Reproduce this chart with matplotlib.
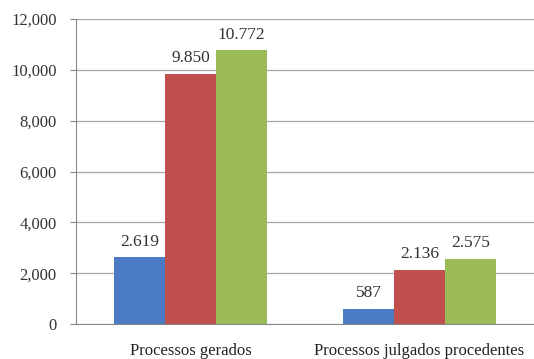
import numpy as np
import matplotlib.pyplot as plt

categories = ["Processos gerados", "Processos julgados procedentes"]
serie_1 = [2619, 587]
serie_2 = [9850, 2136]
serie_3 = [10772, 2575]
rotulos_1 = ["2.619", "587"]
rotulos_2 = ["9.850", "2.136"]
rotulos_3 = ["10.772", "2.575"]
yticks = [0, 2000, 4000, 6000, 8000, 10000, 12000]
ytick_labels = ["0", "2,000", "4,000", "6,000", "8,000", "10,000", "12,000"]

plt.rcParams['font.family'] = ['Liberation Serif', 'DejaVu Serif']

fig = plt.figure(figsize=(5.34, 3.59), dpi=100)
ax = fig.add_axes([76 / 534, 1 - 324 / 359, 458 / 534, 305 / 359])

x = np.arange(len(categories))
w = 0.223
colors = ["#4a7bc4", "#c0504d", "#9bbb59"]
for off, vals, labs, c in [(-w, serie_1, rotulos_1, colors[0]),
                           (0, serie_2, rotulos_2, colors[1]),
                           (w, serie_3, rotulos_3, colors[2])]:
    bars = ax.bar(x + off, vals, w, color=c, zorder=3)
    for b, t in zip(bars, labs):
        ax.text(b.get_x() + b.get_width() / 2, b.get_height() + 300, t,
                ha='center', va='bottom', fontsize=12.5, color='#333333')

ax.set_xlim(-0.5, 1.5)
ax.set_ylim(0, 12000)
ax.set_yticks(yticks)
ax.set_yticklabels(ytick_labels, fontsize=12, color='#333333')
ax.set_xticks(x)
ax.set_xticklabels(categories, fontsize=12, color='#222222')
ax.tick_params(axis='x', length=0, pad=14)
ax.tick_params(axis='y', length=4, color='#888888', pad=10)
ax.grid(axis='y', color='#a6a6a6', linewidth=0.9, zorder=0)
for s in ['top', 'right']:
    ax.spines[s].set_visible(False)
ax.spines['left'].set_color('#888888')
ax.spines['bottom'].set_color('#888888')

fig.savefig("out.png", dpi=100)
